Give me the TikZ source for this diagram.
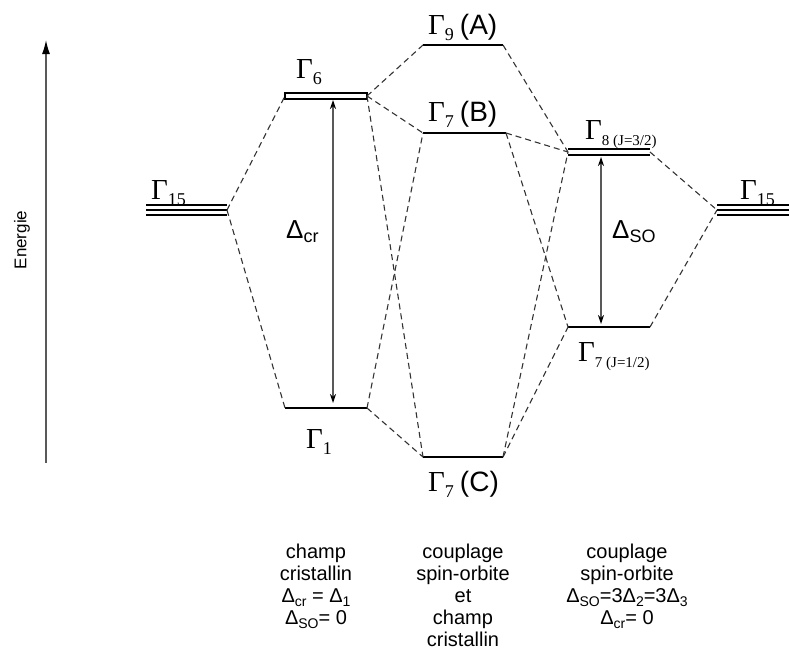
\documentclass[tikz,border=0pt]{standalone}
\usepackage{fontspec}
\setmainfont{Liberation Sans}
\newfontfamily\serifg{Liberation Serif}
\usetikzlibrary{arrows.meta}
\newcommand\gam[2][18]{{\serifg\fontsize{29}{29}\selectfont Γ}\raisebox{-6pt}{\serifg\fontsize{#1}{#1}\selectfont #2}}
\newcommand\dsub[2]{Δ\raisebox{-4pt}{\fontsize{#2}{#2}\selectfont #1}}
\newcommand\tag[1]{\hspace{6pt}{\fontsize{28}{28}\selectfont(#1)}}
\begin{document}
\begin{tikzpicture}[x=1pt,y=-1pt,
  lev/.style={line width=2.2pt},
  levthin/.style={line width=1.7pt},
  conn/.style={dash pattern=on 6pt off 4pt, line width=1.1pt, black!80},
  lbl/.style={inner sep=0pt, anchor=base west},
  gapar/.style={{Stealth[black,length=9pt,width=6pt]}-{Stealth[black,length=9pt,width=6pt]}, line width=1.3pt, black!65},
  bottom/.style={inner sep=0pt, anchor=north, align=center, font=\fontsize{20}{22}\selectfont}]
\useasboundingbox (0,0) rectangle (789,659);

% energy axis
\coordinate (axB) at (46,463);
\coordinate (axT) at (46,40);
\draw[line width=1.4pt, black!65, -{Latex[black,length=14pt,width=8pt]}] (axB) -- (axT);
\node[inner sep=0pt, rotate=90, font=\fontsize{17}{17}\selectfont] (energie) at (22,240) {Energie};

% levels: coordinates
\coordinate (g15Ll) at (146,210); \coordinate (g15Lr) at (227,210);
\coordinate (g6l) at (285,96);   \coordinate (g6r) at (367,96);
\coordinate (g1l) at (285,408);  \coordinate (g1r) at (367,408);
\coordinate (g9l) at (423,45);   \coordinate (g9r) at (503,45);
\coordinate (g7Bl) at (423,133); \coordinate (g7Br) at (506,133);
\coordinate (g7Cl) at (423,457); \coordinate (g7Cr) at (503,457);
\coordinate (g8l) at (568,152);  \coordinate (g8r) at (650,152);
\coordinate (g7Jl) at (568,327); \coordinate (g7Jr) at (650,327);
\coordinate (g15Rl) at (717,210); \coordinate (g15Rr) at (789,210);

% triple lines Gamma15
\foreach \d in {-5,0,5} {
  \draw[levthin] ([yshift=\d pt]g15Ll) -- ([yshift=\d pt]g15Lr);
  \draw[levthin] ([yshift=\d pt]g15Rl) -- ([yshift=\d pt]g15Rr);
}
% double lines
\draw[levthin] ([yshift=-3pt]g6l) rectangle ([yshift=3pt]g6r);
\draw[levthin] ([yshift=-3pt]g8l) -- ([yshift=-3pt]g8r);
\draw[levthin] ([yshift=3pt]g8l) -- ([yshift=3pt]g8r);
% single lines
\draw[lev] (g1l) -- (g1r);
\draw[lev] (g9l) -- (g9r);
\draw[lev] (g7Bl) -- (g7Br);
\draw[lev] (g7Cl) -- (g7Cr);
\draw[lev] (g7Jl) -- (g7Jr);

% connectors
\draw[conn] (g15Lr) -- (g6l);
\draw[conn] (g15Lr) -- (g1l);
\draw[conn] (g6r) -- (g9l);
\draw[conn] (g6r) -- (g7Bl);
\draw[conn] (g6r) -- (g7Cl);
\draw[conn] (g1r) -- (g7Bl);
\draw[conn] (g1r) -- (g7Cl);
\draw[conn] (g9r) -- (g8l);
\draw[conn] (g7Br) -- (g8l);
\draw[conn] (g7Br) -- (g7Jl);
\draw[conn] (g7Cr) -- (g8l);
\draw[conn] (g7Cr) -- (g7Jl);
\draw[conn] (g8r) -- (g15Rl);
\draw[conn] (g7Jr) -- (g15Rl);

% gap arrows
\coordinate (dcrT) at (333,100); \coordinate (dcrB) at (333,403);
\coordinate (dsoT) at (601,157); \coordinate (dsoB) at (601,324);
\draw[gapar] (dcrT) -- (dcrB);
\draw[gapar] (dsoT) -- (dsoB);
\node[lbl, font=\fontsize{26}{26}\selectfont] (dcr) at (286,238) {\dsub{cr}{18}};
\node[lbl, font=\fontsize{26}{26}\selectfont] (dso) at (612,238) {\dsub{SO}{18}};

% level labels
\node[lbl] (l15L) at (151,199) {\gam{15}};
\node[lbl] (l6) at (296,78) {\gam{6}};
\node[lbl] (l1) at (306,448) {\gam{1}};
\node[lbl] (l9) at (428,34) {\gam{9}\tag{A}};
\node[lbl] (l7B) at (428,121) {\gam{7}\tag{B}};
\node[lbl] (l7C) at (428,491) {\gam{7}\tag{C}};
\node[lbl] (l8) at (585,139) {\gam[15]{8 (J=3/2)}};
\node[lbl] (l7J) at (578,361) {\gam[15]{7 (J=1/2)}};
\node[lbl] (l15R) at (740,199) {\gam{15}};

% bottom captions
\node[bottom] (c1) at (316,544) {champ\\cristallin\\\dsub{cr}{14} = \dsub{1}{14}\\\dsub{SO}{14}= 0};
\node[bottom] (c2) at (463,544) {couplage\\spin-orbite\\et\\champ\\cristallin};
\node[bottom] (c3) at (627,544) {couplage\\spin-orbite\\\dsub{SO}{14}=3\dsub{2}{14}=3\dsub{3}{14}\\\dsub{cr}{14}= 0};
\end{tikzpicture}
\end{document}
